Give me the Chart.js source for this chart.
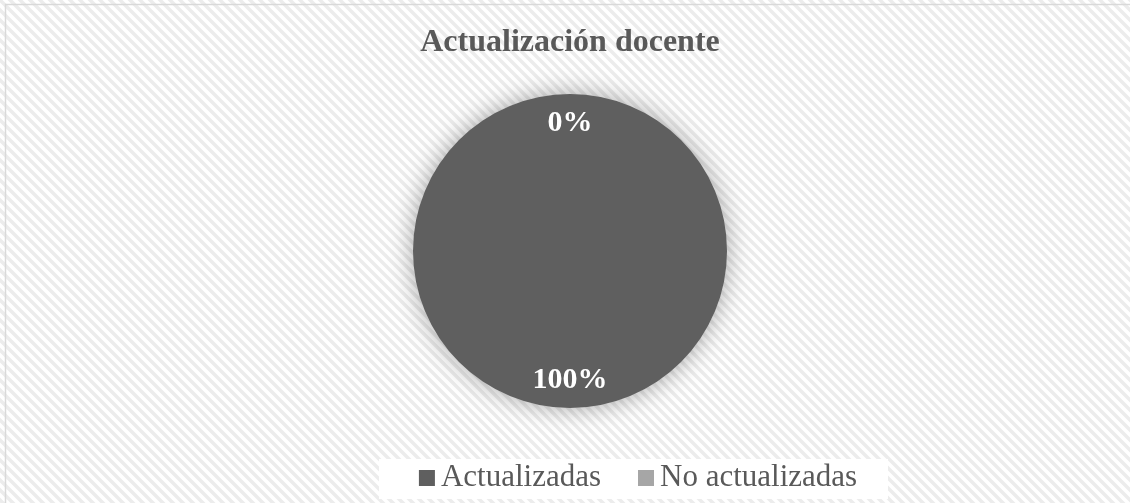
<!DOCTYPE html>
<html>
<head>
<meta charset="utf-8">
<script src="https://cdn.jsdelivr.net/npm/chart.js@4/dist/chart.umd.min.js"></script>
<style>
  html, body { margin: 0; padding: 0; background: #fff; }
  #wrap { width: 1130px; height: 503px; }
</style>
</head>
<body>
<div id="wrap"><canvas id="pie" width="1130" height="503"></canvas></div>
<script>
const chartTitle = "Actualización docente";
const categories = ["Actualizadas", "No actualizadas"];
const shares = [100, 0];
const sliceColors = ["#5f5f5f", "#a6a6a6"];

const serif = "'Liberation Serif', 'Times New Roman', serif";

// diagonal stripe background
function stripes(ctx) {
  const p = document.createElement("canvas");
  p.width = 10; p.height = 10;
  const c = p.getContext("2d");
  c.fillStyle = "#fff";
  c.fillRect(0, 0, 10, 10);
  c.strokeStyle = "#ececec";
  c.lineWidth = 3.5;
  c.beginPath();
  c.moveTo(-5, -5); c.lineTo(15, 15);
  c.moveTo(-15, -5); c.lineTo(5, 15);
  c.moveTo(5, -5); c.lineTo(25, 15);
  c.stroke();
  return ctx.createPattern(p, "repeat");
}

const backdrop = {
  id: "backdrop",
  beforeDraw(chart) {
    const ctx = chart.ctx;
    ctx.save();
    ctx.fillStyle = stripes(ctx);
    ctx.fillRect(0, 0, chart.width, chart.height);
    ctx.strokeStyle = "#d9d9d9";
    ctx.lineWidth = 1.5;
    ctx.strokeRect(5.5, 4.5, chart.width + 20, chart.height + 20);
    ctx.restore();
  }
};

const glow = {
  id: "glow",
  beforeDatasetsDraw(chart) {
    const ctx = chart.ctx;
    ctx.save();
    ctx.shadowColor = "rgba(0,0,0,0.35)";
    ctx.shadowBlur = 24;
  },
  afterDatasetsDraw(chart) {
    chart.ctx.restore();
  }
};

const sliceLabels = {
  id: "sliceLabels",
  afterDatasetsDraw(chart) {
    const ctx = chart.ctx;
    const meta = chart.getDatasetMeta(0);
    const total = shares.reduce((a, b) => a + b, 0);
    ctx.save();
    ctx.fillStyle = "#ffffff";
    ctx.font = "bold 30px " + serif;
    ctx.textAlign = "center";
    ctx.textBaseline = "middle";
    meta.data.forEach((arc, i) => {
      const p = arc.getProps(["x", "y", "startAngle", "endAngle", "outerRadius"], true);
      const mid = (p.startAngle + p.endAngle) / 2;
      const r = p.outerRadius * 0.82;
      const pct = Math.round(shares[i] / total * 100) + "%";
      ctx.fillText(pct, p.x + Math.cos(mid) * r, p.y + Math.sin(mid) * r + 1);
    });
    ctx.restore();
  }
};

const bottomLegend = {
  id: "bottomLegend",
  afterDraw(chart) {
    const ctx = chart.ctx;
    ctx.save();
    ctx.font = "31px " + serif;
    const box = 16, gap = 6, between = 37;
    const widths = categories.map(t => ctx.measureText(t).width);
    const total = widths.reduce((a, w) => a + box + gap + w, 0) + between * (categories.length - 1);
    let x = 638 - total / 2;
    ctx.fillStyle = "#ffffff";
    ctx.fillRect(379, 459, 509, 40);
    ctx.textBaseline = "alphabetic";
    categories.forEach((t, i) => {
      ctx.fillStyle = sliceColors[i];
      ctx.fillRect(x, 470, box, box);
      ctx.fillStyle = "#595959";
      ctx.fillText(t, x + box + gap, 486);
      x += box + gap + widths[i] + between;
    });
    ctx.restore();
  }
};

new Chart(document.getElementById("pie"), {
  type: "pie",
  data: {
    labels: categories,
    datasets: [{
      data: shares,
      backgroundColor: sliceColors,
      borderWidth: 0,
      hoverOffset: 0
    }]
  },
  options: {
    responsive: false,
    animation: false,
    rotation: 0,
    layout: { padding: { top: 0, bottom: 95, left: 10, right: 0 } },
    plugins: {
      legend: { display: false },
      tooltip: { enabled: false },
      title: {
        display: true,
        text: chartTitle,
        color: "#595959",
        font: { family: serif, size: 32, weight: "bold", lineHeight: 1.2 },
        padding: { top: 24, bottom: 31.6 }
      }
    }
  },
  plugins: [backdrop, glow, sliceLabels, bottomLegend]
});
</script>
</body>
</html>
